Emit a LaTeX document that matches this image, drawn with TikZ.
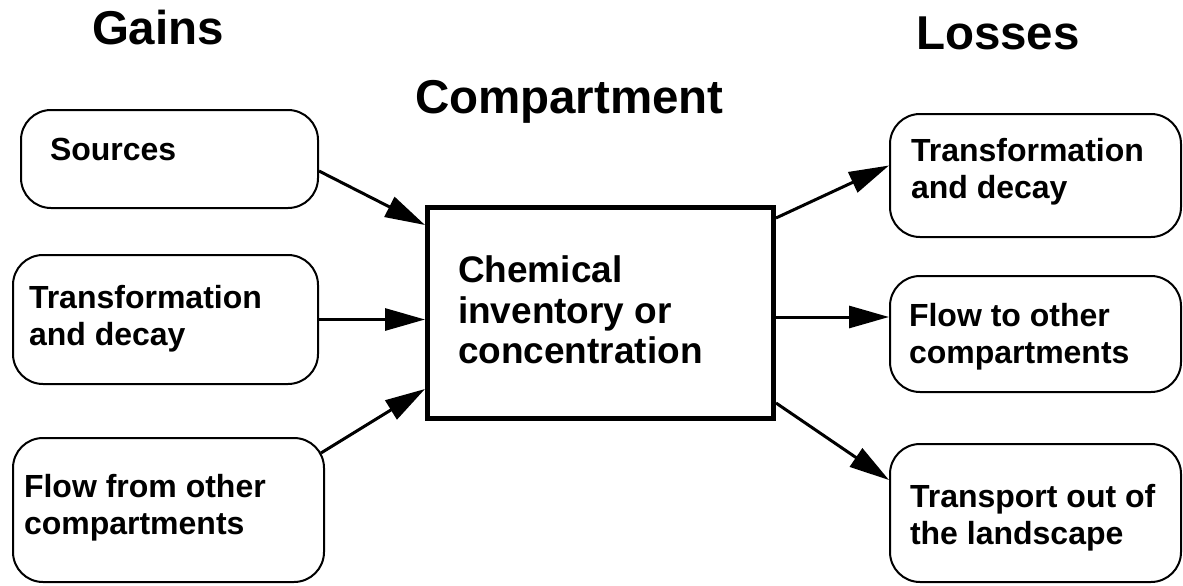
\documentclass[tikz,border=0pt]{standalone}
\usepackage{fontspec}
\setmainfont{Liberation Sans}
\usetikzlibrary{arrows.meta}

\begin{document}
\begin{tikzpicture}[x=1pt, y=-1pt, line width=2pt,
  >={Triangle[length=40pt, width=22pt]},
  box/.style={draw, rounded corners=30pt, inner sep=0pt},
  txt/.style={anchor=north west, inner sep=0pt, align=left,
    font=\bfseries\fontsize{32}{37}\selectfont},
  title/.style={anchor=base west, inner sep=0pt,
    font=\bfseries\fontsize{47.5}{50}\selectfont},
  flow/.style={line width=3pt, ->}]
  \fill[white] (0,0) rectangle (1183,586);

  % headings
  \node[title] (gains) at (91,45) {Gains};
  \node[title] (compt) at (414,113) {Compartment};
  \node[title] (losses) at (915,50) {Losses};

  % gains
  \node[box, minimum width=297pt, minimum height=98pt] (sources) at (169.5,159) {};
  \node[box, minimum width=305pt, minimum height=129pt] (gaindecay) at (165.5,319.5) {};
  \node[box, minimum width=311pt, minimum height=144pt] (gainflow) at (168.5,510) {};
  \node[txt] (sourcesT) at (49,137) {Sources};
  \node[txt] (gaindecayT) at (28,284) {Transformation\\and decay};
  \node[txt] (gainflowT) at (23,473) {Flow from other\\compartments};

  % the compartment
  \node[draw, line width=5pt, inner sep=0pt, minimum width=346pt, minimum height=211pt] (chem) at (600.5,313) {};
  \node[txt, font=\bfseries\fontsize{37}{40.5}\selectfont] (chemT) at (457,255) {Chemical\\inventory or\\concentration};

  % losses
  \node[box, minimum width=291pt, minimum height=123pt] (lossdecay) at (1035.5,175.5) {};
  \node[box, minimum width=291pt, minimum height=116pt] (lossflow) at (1035.5,334) {};
  \node[box, minimum width=291pt, minimum height=138pt] (transport) at (1035.5,513) {};
  \node[txt] (lossdecayT) at (910,137) {Transformation\\and decay};
  \node[txt] (lossflowT) at (908,302) {Flow to other\\compartments};
  \node[txt] (transportT) at (909,483) {Transport out of\\the landscape};

  \draw[flow] ([yshift=-12pt]sources.east) to ([yshift=-20pt]chem.north west);
  \draw[flow] (gaindecay.east) to (gaindecay.east -| chem.west);
  \draw[flow] ([xshift=-4pt, yshift=-16pt]gainflow.north east) to ([yshift=32pt]chem.south west);

  \draw[flow] ([yshift=-13pt]chem.north east) to ([yshift=10pt]lossdecay.west);
  \draw[flow] ([yshift=-4pt]chem.east) to ([yshift=-4pt]chem.east -| lossflow.west);
  \draw[flow] ([yshift=18pt]chem.south east) to ([yshift=33pt]transport.west);
\end{tikzpicture}
\end{document}
